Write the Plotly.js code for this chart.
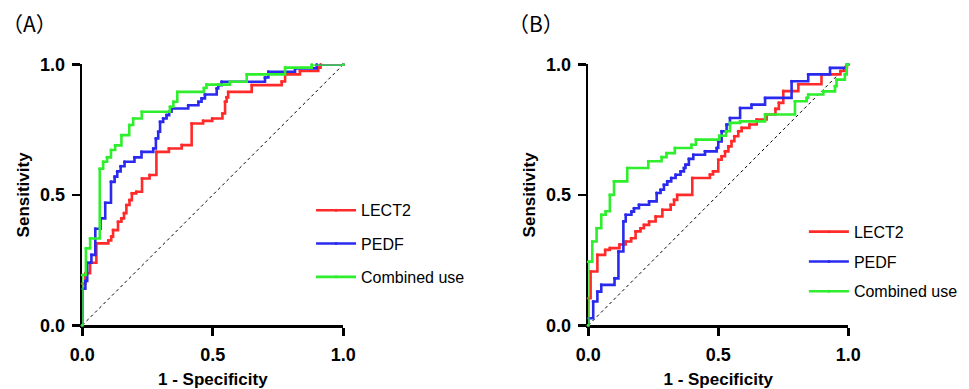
<!DOCTYPE html>
<html>
<head>
<meta charset="utf-8">
<script src="https://cdn.plot.ly/plotly-3.0.1.min.js"></script>
<style>html,body{margin:0;padding:0;background:#fff;}#chart{width:969px;height:389px;}</style>
</head>
<body>
<div id="chart"></div>
<script>
// ---- Data (step points: at FPR x the sensitivity rises to y) ----
const seriesNames = ["LECT2", "PEDF", "Combined use"];
const tickVals = [0, 0.5, 1];
const tickText = ["0.0", "0.5", "1.0"];
const diagX = [0, 1];
const diagY = [0, 1];

// Panel A
const a_lect2_x = [0,0,0.012,0.03,0.054,0.10,0.111,0.118,0.137,0.15,0.16,0.169,0.181,0.19,0.207,0.229,0.258,0.284,0.332,0.381,0.419,0.463,0.498,0.537,0.547,0.553,0.559,0.649,0.764,0.777,0.834,0.904,0.913,1];
const a_lect2_y = [0,0.16,0.20,0.24,0.314,0.325,0.34,0.365,0.397,0.41,0.43,0.461,0.48,0.506,0.512,0.563,0.576,0.665,0.678,0.691,0.774,0.784,0.793,0.812,0.857,0.874,0.895,0.921,0.935,0.962,0.975,0.988,1.0,1.0];
const a_pedf_x = [0,0,0.012,0.019,0.035,0.05,0.07,0.088,0.11,0.124,0.134,0.147,0.162,0.20,0.227,0.272,0.282,0.291,0.298,0.310,0.323,0.333,0.342,0.406,0.445,0.457,0.470,0.515,0.521,0.534,0.700,0.713,0.815,0.898,1];
const a_pedf_y = [0,0.14,0.17,0.24,0.27,0.37,0.41,0.47,0.55,0.57,0.59,0.61,0.627,0.644,0.665,0.678,0.716,0.742,0.780,0.793,0.806,0.819,0.831,0.844,0.857,0.870,0.885,0.908,0.921,0.934,0.95,0.972,0.985,1.0,1.0];
const a_comb_x = [0,0,0.014,0.03,0.067,0.08,0.095,0.11,0.126,0.15,0.18,0.195,0.228,0.336,0.349,0.364,0.466,0.476,0.566,0.630,0.777,0.879,1];
const a_comb_y = [0,0.193,0.295,0.333,0.60,0.627,0.644,0.672,0.69,0.729,0.768,0.793,0.819,0.838,0.857,0.895,0.91,0.923,0.934,0.962,0.988,1.0,1.0];

// Panel B
const b_lect2_x = [0,0,0.009,0.035,0.065,0.083,0.12,0.144,0.165,0.182,0.201,0.214,0.234,0.259,0.285,0.317,0.33,0.342,0.40,0.468,0.48,0.50,0.513,0.526,0.539,0.551,0.562,0.577,0.590,0.62,0.648,0.686,0.72,0.733,0.75,0.808,0.897,0.97,0.99,1];
const b_lect2_y = [0,0.104,0.206,0.270,0.289,0.296,0.31,0.321,0.334,0.36,0.372,0.385,0.398,0.417,0.443,0.462,0.481,0.500,0.565,0.578,0.59,0.635,0.648,0.667,0.686,0.706,0.725,0.744,0.757,0.77,0.789,0.808,0.83,0.853,0.898,0.924,0.962,0.975,0.99,1.0];
const b_pedf_x = [0,0,0.019,0.035,0.050,0.101,0.116,0.135,0.144,0.166,0.176,0.195,0.234,0.263,0.278,0.291,0.304,0.319,0.336,0.355,0.368,0.374,0.387,0.404,0.449,0.494,0.50,0.513,0.532,0.545,0.584,0.628,0.68,0.782,0.846,0.93,0.994,1];
const b_pedf_y = [0,0.027,0.091,0.129,0.155,0.180,0.283,0.398,0.424,0.436,0.449,0.462,0.475,0.507,0.520,0.539,0.552,0.565,0.577,0.590,0.603,0.616,0.638,0.654,0.667,0.68,0.705,0.744,0.77,0.795,0.833,0.846,0.872,0.936,0.962,0.987,1.0,1.0];
const b_comb_x = [0,0,0.0155,0.032,0.05,0.067,0.083,0.099,0.15,0.231,0.282,0.301,0.333,0.397,0.414,0.504,0.530,0.545,0.584,0.680,0.795,0.840,0.846,0.904,0.949,0.955,0.987,0.994,1];
const b_comb_y = [0,0.244,0.321,0.372,0.424,0.437,0.50,0.552,0.603,0.629,0.645,0.66,0.68,0.692,0.712,0.727,0.744,0.776,0.782,0.808,0.859,0.872,0.885,0.897,0.917,0.942,0.962,1.0,1.0];

const colors = ["#FF2A2A", "#2A2AEE", "#2EEE2E"];
const FONT = "'Liberation Sans', Arial, sans-serif";

function curve(x, y, i, xa, ya, leg) {
  return {
    x: x, y: y, xaxis: xa, yaxis: ya, type: "scatter", mode: "lines+markers",
    line: {shape: "hv", color: colors[i], width: 2.6},
    marker: {size: 3, color: colors[i]},
    name: seriesNames[i], legend: leg, legendgroup: leg + "g" + i,
    cliponaxis: false
  };
}
function diag(xa, ya) {
  return {x: diagX, y: diagY, xaxis: xa, yaxis: ya, type: "scatter", mode: "lines",
    line: {color: "#000", width: 1, dash: "dot"}, showlegend: false, hoverinfo: "skip"};
}

const data = [
  diag("x", "y"), diag("x2", "y2"),
  curve(a_lect2_x, a_lect2_y, 0, "x", "y", "legend"),
  curve(a_pedf_x, a_pedf_y, 1, "x", "y", "legend"),
  curve(a_comb_x, a_comb_y, 2, "x", "y", "legend"),
  curve(b_lect2_x, b_lect2_y, 0, "x2", "y2", "legend2"),
  curve(b_pedf_x, b_pedf_y, 1, "x2", "y2", "legend2"),
  curve(b_comb_x, b_comb_y, 2, "x2", "y2", "legend2")
];

function xAxis(domain, anchor) {
  return {
    domain: domain, anchor: anchor, range: [0, 1], fixedrange: true,
    showline: true, linecolor: "#000", linewidth: 2.6, mirror: false,
    showgrid: false, zeroline: false, layer: "below traces",
    ticks: "outside", ticklen: 8, tickwidth: 2.6, tickcolor: "#000",
    tickvals: tickVals, ticktext: tickText, ticklabelstandoff: 4,
    tickfont: {family: FONT, size: 18, color: "#000", weight: "bold"},
    title: {text: "1 - Specificity", standoff: 12, font: {family: FONT, size: 17, color: "#000", weight: "bold"}},
    automargin: false
  };
}
function yAxis(domain, anchor) {
  return {
    domain: domain, anchor: anchor, range: [0, 1], fixedrange: true,
    showline: true, linecolor: "#000", linewidth: 2.6, mirror: false,
    showgrid: false, zeroline: false, layer: "below traces",
    ticks: "outside", ticklen: 8, tickwidth: 2.6, tickcolor: "#000",
    tickvals: tickVals, ticktext: tickText, ticklabelstandoff: 3,
    tickfont: {family: FONT, size: 18, color: "#000", weight: "bold"},
    title: {text: "Sensitivity", standoff: 6, font: {family: FONT, size: 17, color: "#000", weight: "bold"}},
    automargin: false
  };
}

const yDom = [0.1638, 0.8342];
const layout = {
  width: 969, height: 389,
  margin: {l: 0, r: 0, t: 0, b: 0},
  paper_bgcolor: "#fff", plot_bgcolor: "#fff",
  font: {family: FONT, color: "#000"},
  xaxis: xAxis([0.0849, 0.3543], "y"),
  yaxis: yAxis(yDom, "x"),
  xaxis2: xAxis([0.6071, 0.8754], "y2"),
  yaxis2: yAxis(yDom, "x2"),
  legend: {x: 0.321, y: 0.503, xanchor: "left", yanchor: "top", bgcolor: "rgba(0,0,0,0)",
    font: {family: FONT, size: 16, color: "#000"}, traceorder: "grouped", tracegroupgap: 9.5, itemwidth: 40},
  legend2: {x: 0.8296, y: 0.448, xanchor: "left", yanchor: "top", bgcolor: "rgba(0,0,0,0)",
    font: {family: FONT, size: 16, color: "#000"}, traceorder: "grouped", tracegroupgap: 6, itemwidth: 40},
  annotations: [
    {text: "（A）", xref: "paper", yref: "paper", x: 0.0, y: 0.985, xanchor: "left", yanchor: "top", showarrow: false,
      font: {family: "'Noto Sans CJK SC', sans-serif", size: 21, color: "#000"}},
    {text: "（B）", xref: "paper", yref: "paper", x: 0.522, y: 0.985, xanchor: "left", yanchor: "top", showarrow: false,
      font: {family: "'Noto Sans CJK SC', sans-serif", size: 21, color: "#000"}}
  ],
  showlegend: true
};

Plotly.newPlot("chart", data, layout, {displayModeBar: false, staticPlot: true});
</script>
</body>
</html>
